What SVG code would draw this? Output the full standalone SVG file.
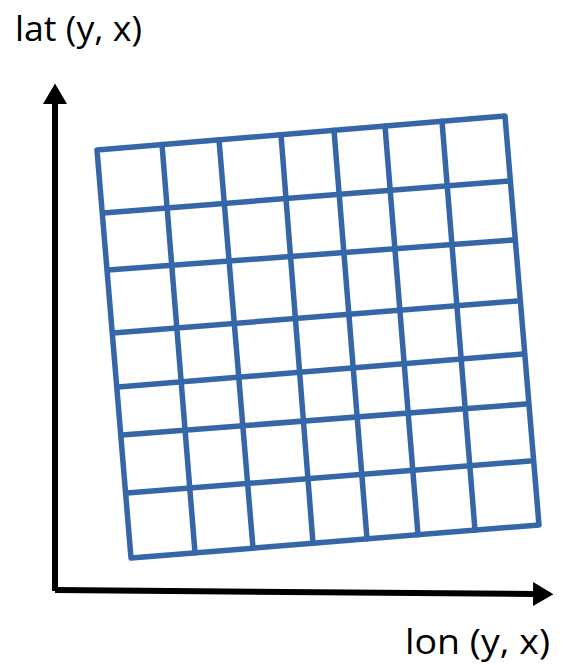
<svg xmlns="http://www.w3.org/2000/svg" width="563" height="665" viewBox="0 0 563 665">
<style>
.g{stroke:#3566a8;stroke-width:5.5;fill:none;stroke-linecap:round;stroke-linejoin:round}
.ax{stroke:#000;stroke-width:6;fill:none}
.t{font-family:"Open Sans","Liberation Sans",sans-serif;font-size:34px;fill:#000}
</style>
<defs>
<marker id="ah" markerWidth="4" markerHeight="4" refX="0" refY="2" orient="auto" markerUnits="strokeWidth" viewBox="0 0 4 4">
<path d="M0,0 L3.4,2 L0,4 Z" fill="#000"/>
</marker>
</defs>
<rect width="563" height="665" fill="#fff"/>
<g id="axes">
<line class="ax" x1="55" y1="591" x2="55" y2="104" marker-end="url(#ah)"/>
<line class="ax" x1="55" y1="590" x2="533" y2="594" marker-end="url(#ah)"/>
</g>
<g id="grid">
<polygon class="g" points="97,150 505,116 539,525 131,558"/>
<line class="g" x1="103" y1="213" x2="509" y2="181"/>
<line class="g" x1="108" y1="270" x2="513" y2="240"/>
<line class="g" x1="113" y1="333" x2="517" y2="301"/>
<line class="g" x1="118" y1="387" x2="523" y2="354"/>
<line class="g" x1="122" y1="435" x2="526" y2="404"/>
<line class="g" x1="127" y1="493" x2="530" y2="461"/>
<line class="g" x1="162" y1="144.6" x2="195" y2="552.8"/>
<line class="g" x1="219" y1="139.8" x2="253" y2="548.1"/>
<line class="g" x1="281" y1="134.7" x2="313" y2="543.3"/>
<line class="g" x1="334" y1="130.3" x2="367" y2="538.9"/>
<line class="g" x1="385" y1="126" x2="418" y2="534.8"/>
<line class="g" x1="442" y1="121.2" x2="475" y2="530.2"/>
</g>
<g id="labels">
<text class="t" x="15" y="41" textLength="127" lengthAdjust="spacingAndGlyphs">lat (y, x)</text>
<text class="t" x="405" y="654" textLength="145" lengthAdjust="spacingAndGlyphs">lon (y, x)</text>
</g>
</svg>
